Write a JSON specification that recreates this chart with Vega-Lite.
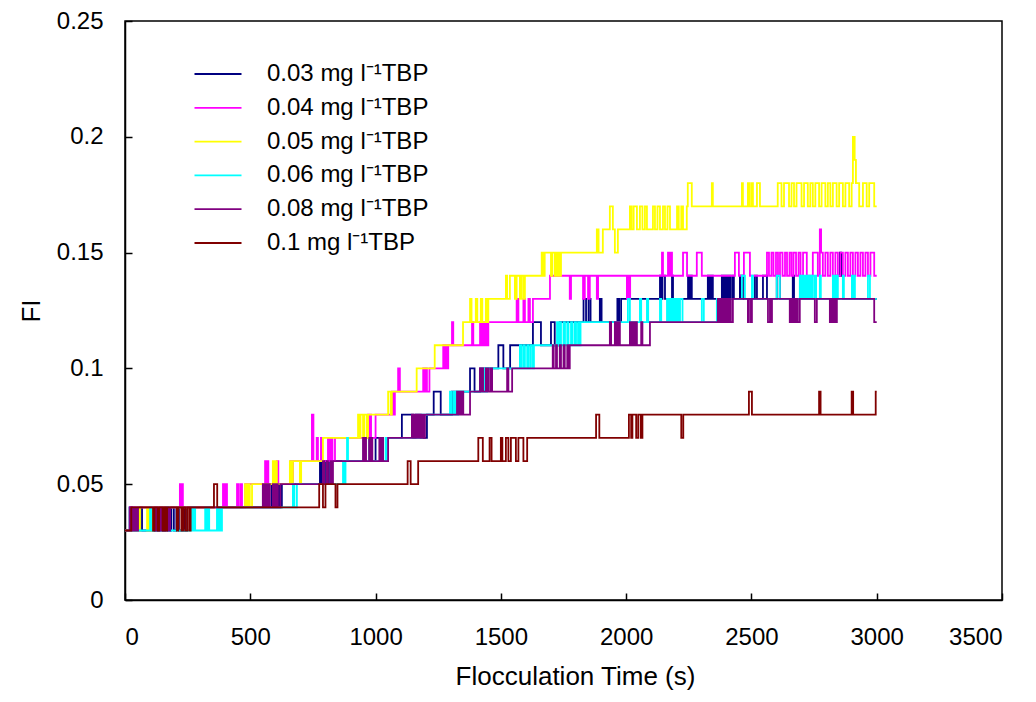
{
"$schema":"https://vega.github.io/schema/vega-lite/v6.json",
"width":877,"height":579,
"autosize":"none",
"padding":{"left":125,"top":21,"right":34,"bottom":102},
"background":"white",
"config":{
 "view":{"stroke":"black","strokeWidth":1.5},
 "axis":{"grid":false,"labelFont":"Liberation Sans","titleFont":"Liberation Sans","labelFontSize":24,"titleFontSize":26,"titleFontWeight":"normal","labelColor":"black","titleColor":"black","domainColor":"black","tickColor":"black","domainWidth":1.5,"tickWidth":1.5,"tickSize":-7}
},
"data":{"values":[
{"s":"0.03","t":0,"v":0.03},{"s":"0.03","t":18,"v":0.04},{"s":"0.03","t":28,"v":0.03},{"s":"0.03","t":60,"v":0.04},{"s":"0.03","t":68,"v":0.03},{"s":"0.03","t":120,"v":0.04},{"s":"0.03","t":128,"v":0.03},{"s":"0.03","t":140,"v":0.04},{"s":"0.03","t":150,"v":0.03},{"s":"0.03","t":160,"v":0.04},{"s":"0.03","t":172,"v":0.03},{"s":"0.03","t":185,"v":0.04},{"s":"0.03","t":195,"v":0.03},{"s":"0.03","t":205,"v":0.04},{"s":"0.03","t":215,"v":0.03},{"s":"0.03","t":228,"v":0.04},{"s":"0.03","t":236,"v":0.03},{"s":"0.03","t":248,"v":0.04},
{"s":"0.03","t":566,"v":0.05},{"s":"0.03","t":572,"v":0.04},{"s":"0.03","t":585,"v":0.05},{"s":"0.03","t":592,"v":0.04},{"s":"0.03","t":600,"v":0.05},{"s":"0.03","t":606,"v":0.04},{"s":"0.03","t":614,"v":0.05},{"s":"0.03","t":620,"v":0.04},{"s":"0.03","t":626,"v":0.05},
{"s":"0.03","t":778,"v":0.06},{"s":"0.03","t":784,"v":0.05},{"s":"0.03","t":792,"v":0.06},{"s":"0.03","t":798,"v":0.05},{"s":"0.03","t":806,"v":0.06},{"s":"0.03","t":812,"v":0.05},{"s":"0.03","t":820,"v":0.06},
{"s":"0.03","t":952,"v":0.07},{"s":"0.03","t":975,"v":0.06},{"s":"0.03","t":1000,"v":0.07},{"s":"0.03","t":1030,"v":0.06},{"s":"0.03","t":1045,"v":0.07},
{"s":"0.03","t":1105,"v":0.08},{"s":"0.03","t":1150,"v":0.07},{"s":"0.03","t":1160,"v":0.08},{"s":"0.03","t":1180,"v":0.07},{"s":"0.03","t":1205,"v":0.08},
{"s":"0.03","t":1232,"v":0.09},{"s":"0.03","t":1260,"v":0.08},{"s":"0.03","t":1305,"v":0.09},
{"s":"0.03","t":1377,"v":0.10},{"s":"0.03","t":1395,"v":0.09},{"s":"0.03","t":1417,"v":0.10},
{"s":"0.03","t":1490,"v":0.11},{"s":"0.03","t":1510,"v":0.10},{"s":"0.03","t":1537,"v":0.11},
{"s":"0.03","t":1628,"v":0.12},{"s":"0.03","t":1660,"v":0.11},{"s":"0.03","t":1700,"v":0.12},{"s":"0.03","t":1715,"v":0.11},{"s":"0.03","t":1735,"v":0.12},
{"s":"0.03","t":1830,"v":0.13},{"s":"0.03","t":1840,"v":0.12},{"s":"0.03","t":1850,"v":0.13},{"s":"0.03","t":1858,"v":0.12},{"s":"0.03","t":1895,"v":0.13},{"s":"0.03","t":1902,"v":0.12},{"s":"0.03","t":1965,"v":0.13},{"s":"0.03","t":1972,"v":0.12},{"s":"0.03","t":1980,"v":0.13},
{"s":"0.03","t":2135,"v":0.14},{"s":"0.03","t":2140,"v":0.13},{"s":"0.03","t":2145,"v":0.14},{"s":"0.03","t":2155,"v":0.13},{"s":"0.03","t":2183,"v":0.14},{"s":"0.03","t":2187,"v":0.13},{"s":"0.03","t":2247,"v":0.14},{"s":"0.03","t":2252,"v":0.13},{"s":"0.03","t":2256,"v":0.14},{"s":"0.03","t":2262,"v":0.13},{"s":"0.03","t":2326,"v":0.14},{"s":"0.03","t":2330,"v":0.13},{"s":"0.03","t":2334,"v":0.14},{"s":"0.03","t":2338,"v":0.13},{"s":"0.03","t":2342,"v":0.14},{"s":"0.03","t":2346,"v":0.13},{"s":"0.03","t":2382,"v":0.14},{"s":"0.03","t":2386,"v":0.13},{"s":"0.03","t":2390,"v":0.14},{"s":"0.03","t":2394,"v":0.13},{"s":"0.03","t":2398,"v":0.14},{"s":"0.03","t":2402,"v":0.13},{"s":"0.03","t":2406,"v":0.14},{"s":"0.03","t":2410,"v":0.13},{"s":"0.03","t":2414,"v":0.14},{"s":"0.03","t":2418,"v":0.13},{"s":"0.03","t":2426,"v":0.14},{"s":"0.03","t":2430,"v":0.13},{"s":"0.03","t":2454,"v":0.14},{"s":"0.03","t":2458,"v":0.13},{"s":"0.03","t":2462,"v":0.14},{"s":"0.03","t":2466,"v":0.13},{"s":"0.03","t":2514,"v":0.14},{"s":"0.03","t":2522,"v":0.13},{"s":"0.03","t":2546,"v":0.14},{"s":"0.03","t":2562,"v":0.13},{"s":"0.03","t":2601,"v":0.14},{"s":"0.03","t":2613,"v":0.13},{"s":"0.03","t":2665,"v":0.14},{"s":"0.03","t":2670,"v":0.13},{"s":"0.03","t":2841,"v":0.14},{"s":"0.03","t":2853,"v":0.15},{"s":"0.03","t":2858,"v":0.14},{"s":"0.03","t":2865,"v":0.13},{"s":"0.03","t":3000,"v":0.13},

{"s":"0.04","t":0,"v":0.03},{"s":"0.04","t":20,"v":0.04},{"s":"0.04","t":25,"v":0.03},{"s":"0.04","t":32,"v":0.04},{"s":"0.04","t":40,"v":0.03},{"s":"0.04","t":48,"v":0.04},{"s":"0.04","t":219,"v":0.05},{"s":"0.04","t":223,"v":0.04},{"s":"0.04","t":228,"v":0.05},{"s":"0.04","t":231,"v":0.04},{"s":"0.04","t":391,"v":0.05},{"s":"0.04","t":397,"v":0.04},{"s":"0.04","t":403,"v":0.05},{"s":"0.04","t":407,"v":0.04},{"s":"0.04","t":447,"v":0.05},{"s":"0.04","t":452,"v":0.04},{"s":"0.04","t":460,"v":0.05},{"s":"0.04","t":467,"v":0.04},{"s":"0.04","t":480,"v":0.05},
{"s":"0.04","t":559,"v":0.06},{"s":"0.04","t":563,"v":0.05},{"s":"0.04","t":567,"v":0.06},{"s":"0.04","t":572,"v":0.05},{"s":"0.04","t":606,"v":0.06},{"s":"0.04","t":612,"v":0.05},{"s":"0.04","t":660,"v":0.06},{"s":"0.04","t":665,"v":0.05},{"s":"0.04","t":670,"v":0.06},
{"s":"0.04","t":746,"v":0.08},{"s":"0.04","t":752,"v":0.06},{"s":"0.04","t":765,"v":0.07},{"s":"0.04","t":770,"v":0.06},{"s":"0.04","t":782,"v":0.07},{"s":"0.04","t":786,"v":0.06},{"s":"0.04","t":810,"v":0.07},{"s":"0.04","t":816,"v":0.06},{"s":"0.04","t":822,"v":0.07},{"s":"0.04","t":828,"v":0.06},{"s":"0.04","t":838,"v":0.07},
{"s":"0.04","t":970,"v":0.08},{"s":"0.04","t":974,"v":0.07},{"s":"0.04","t":978,"v":0.08},{"s":"0.04","t":982,"v":0.07},{"s":"0.04","t":1000,"v":0.08},
{"s":"0.04","t":1065,"v":0.09},{"s":"0.04","t":1070,"v":0.08},{"s":"0.04","t":1077,"v":0.09},{"s":"0.04","t":1090,"v":0.10},{"s":"0.04","t":1097,"v":0.09},
{"s":"0.04","t":1190,"v":0.10},{"s":"0.04","t":1195,"v":0.09},{"s":"0.04","t":1200,"v":0.10},{"s":"0.04","t":1205,"v":0.09},{"s":"0.04","t":1215,"v":0.10},
{"s":"0.04","t":1270,"v":0.11},{"s":"0.04","t":1275,"v":0.10},{"s":"0.04","t":1280,"v":0.11},{"s":"0.04","t":1285,"v":0.10},{"s":"0.04","t":1290,"v":0.11},{"s":"0.04","t":1305,"v":0.12},{"s":"0.04","t":1310,"v":0.11},{"s":"0.04","t":1385,"v":0.12},{"s":"0.04","t":1390,"v":0.11},{"s":"0.04","t":1417,"v":0.12},{"s":"0.04","t":1422,"v":0.11},{"s":"0.04","t":1428,"v":0.12},{"s":"0.04","t":1433,"v":0.11},{"s":"0.04","t":1440,"v":0.12},{"s":"0.04","t":1445,"v":0.11},{"s":"0.04","t":1450,"v":0.12},
{"s":"0.04","t":1563,"v":0.13},{"s":"0.04","t":1570,"v":0.12},{"s":"0.04","t":1590,"v":0.13},{"s":"0.04","t":1596,"v":0.12},{"s":"0.04","t":1610,"v":0.13},{"s":"0.04","t":1616,"v":0.12},{"s":"0.04","t":1628,"v":0.13},
{"s":"0.04","t":1696,"v":0.14},{"s":"0.04","t":1775,"v":0.13},{"s":"0.04","t":1780,"v":0.14},{"s":"0.04","t":1828,"v":0.13},{"s":"0.04","t":1835,"v":0.14},{"s":"0.04","t":1848,"v":0.13},{"s":"0.04","t":1855,"v":0.14},{"s":"0.04","t":1883,"v":0.13},{"s":"0.04","t":1888,"v":0.14},{"s":"0.04","t":2003,"v":0.13},{"s":"0.04","t":2008,"v":0.14},{"s":"0.04","t":2012,"v":0.13},{"s":"0.04","t":2016,"v":0.14},
{"s":"0.04","t":2143,"v":0.15},{"s":"0.04","t":2147,"v":0.14},{"s":"0.04","t":2167,"v":0.15},{"s":"0.04","t":2171,"v":0.14},{"s":"0.04","t":2177,"v":0.15},{"s":"0.04","t":2183,"v":0.14},{"s":"0.04","t":2227,"v":0.15},{"s":"0.04","t":2243,"v":0.14},{"s":"0.04","t":2282,"v":0.15},{"s":"0.04","t":2302,"v":0.14},{"s":"0.04","t":2434,"v":0.15},{"s":"0.04","t":2450,"v":0.14},{"s":"0.04","t":2470,"v":0.15},{"s":"0.04","t":2494,"v":0.14},{"s":"0.04","t":2562,"v":0.15},{"s":"0.04","t":2570,"v":0.14},{"s":"0.04","t":2580,"v":0.15},{"s":"0.04","t":2588,"v":0.14},{"s":"0.04","t":2598,"v":0.15},{"s":"0.04","t":2606,"v":0.14},{"s":"0.04","t":2614,"v":0.15},{"s":"0.04","t":2624,"v":0.14},{"s":"0.04","t":2634,"v":0.15},{"s":"0.04","t":2642,"v":0.14},{"s":"0.04","t":2652,"v":0.15},{"s":"0.04","t":2660,"v":0.14},{"s":"0.04","t":2668,"v":0.15},{"s":"0.04","t":2678,"v":0.14},{"s":"0.04","t":2688,"v":0.15},{"s":"0.04","t":2696,"v":0.14},{"s":"0.04","t":2706,"v":0.15},{"s":"0.04","t":2721,"v":0.14},{"s":"0.04","t":2745,"v":0.15},{"s":"0.04","t":2765,"v":0.14},{"s":"0.04","t":2773,"v":0.16},{"s":"0.04","t":2778,"v":0.15},{"s":"0.04","t":2785,"v":0.14},{"s":"0.04","t":2795,"v":0.15},{"s":"0.04","t":2805,"v":0.14},{"s":"0.04","t":2815,"v":0.15},{"s":"0.04","t":2825,"v":0.14},{"s":"0.04","t":2835,"v":0.15},{"s":"0.04","t":2845,"v":0.14},{"s":"0.04","t":2855,"v":0.15},{"s":"0.04","t":2865,"v":0.14},{"s":"0.04","t":2875,"v":0.15},{"s":"0.04","t":2885,"v":0.14},{"s":"0.04","t":2895,"v":0.15},{"s":"0.04","t":2905,"v":0.14},{"s":"0.04","t":2915,"v":0.15},{"s":"0.04","t":2925,"v":0.14},{"s":"0.04","t":2935,"v":0.15},{"s":"0.04","t":2945,"v":0.14},{"s":"0.04","t":2955,"v":0.15},{"s":"0.04","t":2965,"v":0.14},{"s":"0.04","t":2975,"v":0.15},{"s":"0.04","t":2990,"v":0.14},{"s":"0.04","t":3000,"v":0.14},

{"s":"0.05","t":0,"v":0.03},{"s":"0.05","t":52,"v":0.04},{"s":"0.05","t":56,"v":0.03},{"s":"0.05","t":60,"v":0.04},{"s":"0.05","t":88,"v":0.03},{"s":"0.05","t":95,"v":0.04},{"s":"0.05","t":100,"v":0.03},{"s":"0.05","t":108,"v":0.04},
{"s":"0.05","t":479,"v":0.05},{"s":"0.05","t":485,"v":0.04},{"s":"0.05","t":492,"v":0.05},{"s":"0.05","t":498,"v":0.04},{"s":"0.05","t":507,"v":0.05},
{"s":"0.05","t":590,"v":0.06},{"s":"0.05","t":596,"v":0.05},{"s":"0.05","t":602,"v":0.06},{"s":"0.05","t":606,"v":0.05},{"s":"0.05","t":658,"v":0.06},{"s":"0.05","t":664,"v":0.05},{"s":"0.05","t":670,"v":0.06},{"s":"0.05","t":698,"v":0.05},{"s":"0.05","t":703,"v":0.06},
{"s":"0.05","t":790,"v":0.07},{"s":"0.05","t":930,"v":0.08},{"s":"0.05","t":935,"v":0.07},{"s":"0.05","t":940,"v":0.08},{"s":"0.05","t":950,"v":0.07},{"s":"0.05","t":955,"v":0.08},{"s":"0.05","t":965,"v":0.07},{"s":"0.05","t":970,"v":0.08},
{"s":"0.05","t":1050,"v":0.09},{"s":"0.05","t":1060,"v":0.08},{"s":"0.05","t":1065,"v":0.09},{"s":"0.05","t":1164,"v":0.10},{"s":"0.05","t":1236,"v":0.11},{"s":"0.05","t":1349,"v":0.12},
{"s":"0.05","t":1377,"v":0.13},{"s":"0.05","t":1383,"v":0.12},{"s":"0.05","t":1400,"v":0.13},{"s":"0.05","t":1406,"v":0.12},{"s":"0.05","t":1420,"v":0.13},{"s":"0.05","t":1426,"v":0.12},{"s":"0.05","t":1440,"v":0.13},{"s":"0.05","t":1445,"v":0.12},{"s":"0.05","t":1450,"v":0.13},
{"s":"0.05","t":1520,"v":0.14},{"s":"0.05","t":1525,"v":0.13},{"s":"0.05","t":1536,"v":0.14},{"s":"0.05","t":1556,"v":0.13},{"s":"0.05","t":1563,"v":0.14},{"s":"0.05","t":1576,"v":0.13},{"s":"0.05","t":1582,"v":0.14},{"s":"0.05","t":1590,"v":0.13},{"s":"0.05","t":1596,"v":0.14},
{"s":"0.05","t":1663,"v":0.15},{"s":"0.05","t":1668,"v":0.14},{"s":"0.05","t":1675,"v":0.15},{"s":"0.05","t":1700,"v":0.14},{"s":"0.05","t":1705,"v":0.15},{"s":"0.05","t":1715,"v":0.14},{"s":"0.05","t":1720,"v":0.15},{"s":"0.05","t":1725,"v":0.14},{"s":"0.05","t":1730,"v":0.15},{"s":"0.05","t":1735,"v":0.14},{"s":"0.05","t":1740,"v":0.15},
{"s":"0.05","t":1883,"v":0.16},{"s":"0.05","t":1890,"v":0.15},{"s":"0.05","t":1907,"v":0.16},{"s":"0.05","t":1935,"v":0.17},{"s":"0.05","t":1947,"v":0.16},{"s":"0.05","t":1955,"v":0.15},{"s":"0.05","t":1967,"v":0.16},{"s":"0.05","t":2015,"v":0.17},{"s":"0.05","t":2022,"v":0.16},{"s":"0.05","t":2030,"v":0.17},{"s":"0.05","t":2043,"v":0.16},{"s":"0.05","t":2055,"v":0.17},{"s":"0.05","t":2065,"v":0.16},{"s":"0.05","t":2075,"v":0.17},{"s":"0.05","t":2083,"v":0.16},{"s":"0.05","t":2107,"v":0.17},{"s":"0.05","t":2115,"v":0.16},{"s":"0.05","t":2125,"v":0.17},{"s":"0.05","t":2135,"v":0.16},{"s":"0.05","t":2147,"v":0.17},{"s":"0.05","t":2155,"v":0.16},{"s":"0.05","t":2165,"v":0.17},{"s":"0.05","t":2175,"v":0.16},{"s":"0.05","t":2203,"v":0.17},{"s":"0.05","t":2210,"v":0.16},{"s":"0.05","t":2220,"v":0.17},{"s":"0.05","t":2227,"v":0.16},{"s":"0.05","t":2242,"v":0.17},
{"s":"0.05","t":2246,"v":0.18},{"s":"0.05","t":2262,"v":0.17},{"s":"0.05","t":2342,"v":0.18},{"s":"0.05","t":2346,"v":0.17},{"s":"0.05","t":2462,"v":0.18},{"s":"0.05","t":2466,"v":0.17},{"s":"0.05","t":2486,"v":0.18},{"s":"0.05","t":2492,"v":0.17},{"s":"0.05","t":2500,"v":0.18},{"s":"0.05","t":2506,"v":0.17},{"s":"0.05","t":2522,"v":0.18},{"s":"0.05","t":2534,"v":0.17},
{"s":"0.05","t":2605,"v":0.18},{"s":"0.05","t":2620,"v":0.17},{"s":"0.05","t":2630,"v":0.18},{"s":"0.05","t":2650,"v":0.17},{"s":"0.05","t":2660,"v":0.18},{"s":"0.05","t":2670,"v":0.17},{"s":"0.05","t":2680,"v":0.18},{"s":"0.05","t":2700,"v":0.17},{"s":"0.05","t":2710,"v":0.18},{"s":"0.05","t":2725,"v":0.17},{"s":"0.05","t":2735,"v":0.18},{"s":"0.05","t":2745,"v":0.17},{"s":"0.05","t":2755,"v":0.18},{"s":"0.05","t":2770,"v":0.17},{"s":"0.05","t":2780,"v":0.18},{"s":"0.05","t":2795,"v":0.17},{"s":"0.05","t":2805,"v":0.18},{"s":"0.05","t":2815,"v":0.17},{"s":"0.05","t":2825,"v":0.18},{"s":"0.05","t":2840,"v":0.17},{"s":"0.05","t":2850,"v":0.18},{"s":"0.05","t":2865,"v":0.17},{"s":"0.05","t":2875,"v":0.18},{"s":"0.05","t":2890,"v":0.17},{"s":"0.05","t":2900,"v":0.18},{"s":"0.05","t":2905,"v":0.20},{"s":"0.05","t":2912,"v":0.19},{"s":"0.05","t":2917,"v":0.18},{"s":"0.05","t":2930,"v":0.17},{"s":"0.05","t":2945,"v":0.18},{"s":"0.05","t":2960,"v":0.17},{"s":"0.05","t":2970,"v":0.18},{"s":"0.05","t":2990,"v":0.17},{"s":"0.05","t":3000,"v":0.17},

{"s":"0.06","t":0,"v":0.03},{"s":"0.06","t":100,"v":0.04},{"s":"0.06","t":104,"v":0.03},{"s":"0.06","t":168,"v":0.04},{"s":"0.06","t":172,"v":0.03},{"s":"0.06","t":267,"v":0.04},{"s":"0.06","t":272,"v":0.03},{"s":"0.06","t":276,"v":0.04},{"s":"0.06","t":280,"v":0.03},{"s":"0.06","t":320,"v":0.04},{"s":"0.06","t":326,"v":0.03},{"s":"0.06","t":332,"v":0.04},{"s":"0.06","t":336,"v":0.03},{"s":"0.06","t":367,"v":0.04},{"s":"0.06","t":373,"v":0.03},{"s":"0.06","t":379,"v":0.04},{"s":"0.06","t":383,"v":0.03},{"s":"0.06","t":387,"v":0.04},
{"s":"0.06","t":670,"v":0.05},{"s":"0.06","t":676,"v":0.04},{"s":"0.06","t":686,"v":0.05},{"s":"0.06","t":870,"v":0.06},{"s":"0.06","t":875,"v":0.05},{"s":"0.06","t":880,"v":0.06},{"s":"0.06","t":886,"v":0.07},{"s":"0.06","t":890,"v":0.06},{"s":"0.06","t":1040,"v":0.07},{"s":"0.06","t":1044,"v":0.06},{"s":"0.06","t":1048,"v":0.07},{"s":"0.06","t":1185,"v":0.08},
{"s":"0.06","t":1297,"v":0.09},{"s":"0.06","t":1302,"v":0.08},{"s":"0.06","t":1310,"v":0.09},{"s":"0.06","t":1315,"v":0.08},{"s":"0.06","t":1320,"v":0.09},{"s":"0.06","t":1325,"v":0.08},{"s":"0.06","t":1330,"v":0.09},{"s":"0.06","t":1435,"v":0.10},{"s":"0.06","t":1440,"v":0.09},{"s":"0.06","t":1445,"v":0.10},
{"s":"0.06","t":1576,"v":0.11},{"s":"0.06","t":1582,"v":0.10},{"s":"0.06","t":1590,"v":0.11},{"s":"0.06","t":1596,"v":0.10},{"s":"0.06","t":1605,"v":0.11},{"s":"0.06","t":1612,"v":0.10},{"s":"0.06","t":1620,"v":0.11},{"s":"0.06","t":1628,"v":0.10},{"s":"0.06","t":1632,"v":0.11},
{"s":"0.06","t":1724,"v":0.12},{"s":"0.06","t":1728,"v":0.11},{"s":"0.06","t":1735,"v":0.12},{"s":"0.06","t":1740,"v":0.11},{"s":"0.06","t":1750,"v":0.12},{"s":"0.06","t":1756,"v":0.11},{"s":"0.06","t":1765,"v":0.12},{"s":"0.06","t":1770,"v":0.11},{"s":"0.06","t":1780,"v":0.12},{"s":"0.06","t":1786,"v":0.11},{"s":"0.06","t":1795,"v":0.12},{"s":"0.06","t":1800,"v":0.11},{"s":"0.06","t":1808,"v":0.12},{"s":"0.06","t":1815,"v":0.11},{"s":"0.06","t":1818,"v":0.12},
{"s":"0.06","t":2007,"v":0.13},{"s":"0.06","t":2015,"v":0.12},{"s":"0.06","t":2055,"v":0.13},{"s":"0.06","t":2060,"v":0.12},{"s":"0.06","t":2083,"v":0.13},{"s":"0.06","t":2088,"v":0.12},{"s":"0.06","t":2135,"v":0.13},{"s":"0.06","t":2140,"v":0.12},{"s":"0.06","t":2163,"v":0.13},{"s":"0.06","t":2168,"v":0.12},{"s":"0.06","t":2172,"v":0.13},{"s":"0.06","t":2176,"v":0.12},{"s":"0.06","t":2180,"v":0.13},{"s":"0.06","t":2184,"v":0.12},{"s":"0.06","t":2188,"v":0.13},{"s":"0.06","t":2192,"v":0.12},{"s":"0.06","t":2196,"v":0.13},{"s":"0.06","t":2200,"v":0.12},{"s":"0.06","t":2204,"v":0.13},{"s":"0.06","t":2208,"v":0.12},{"s":"0.06","t":2215,"v":0.13},{"s":"0.06","t":2225,"v":0.12},{"s":"0.06","t":2302,"v":0.13},{"s":"0.06","t":2310,"v":0.12},{"s":"0.06","t":2362,"v":0.13},
{"s":"0.06","t":2462,"v":0.14},{"s":"0.06","t":2474,"v":0.13},{"s":"0.06","t":2502,"v":0.14},{"s":"0.06","t":2506,"v":0.13},{"s":"0.06","t":2601,"v":0.14},{"s":"0.06","t":2613,"v":0.13},{"s":"0.06","t":2693,"v":0.14},{"s":"0.06","t":2697,"v":0.13},{"s":"0.06","t":2701,"v":0.14},{"s":"0.06","t":2705,"v":0.13},{"s":"0.06","t":2709,"v":0.14},{"s":"0.06","t":2713,"v":0.13},{"s":"0.06","t":2717,"v":0.14},{"s":"0.06","t":2721,"v":0.13},{"s":"0.06","t":2725,"v":0.14},{"s":"0.06","t":2729,"v":0.13},{"s":"0.06","t":2733,"v":0.14},{"s":"0.06","t":2737,"v":0.13},{"s":"0.06","t":2741,"v":0.14},{"s":"0.06","t":2745,"v":0.13},{"s":"0.06","t":2753,"v":0.14},{"s":"0.06","t":2758,"v":0.13},{"s":"0.06","t":2773,"v":0.14},{"s":"0.06","t":2777,"v":0.13},{"s":"0.06","t":2825,"v":0.14},{"s":"0.06","t":2832,"v":0.13},{"s":"0.06","t":2838,"v":0.14},{"s":"0.06","t":2845,"v":0.13},{"s":"0.06","t":2865,"v":0.14},{"s":"0.06","t":2869,"v":0.13},{"s":"0.06","t":2901,"v":0.14},{"s":"0.06","t":2905,"v":0.13},{"s":"0.06","t":2909,"v":0.14},{"s":"0.06","t":2913,"v":0.13},{"s":"0.06","t":2965,"v":0.14},{"s":"0.06","t":2973,"v":0.13},{"s":"0.06","t":3000,"v":0.13},

{"s":"0.08","t":0,"v":0.03},{"s":"0.08","t":20,"v":0.04},{"s":"0.08","t":24,"v":0.03},{"s":"0.08","t":28,"v":0.04},{"s":"0.08","t":32,"v":0.03},{"s":"0.08","t":36,"v":0.04},{"s":"0.08","t":40,"v":0.03},{"s":"0.08","t":44,"v":0.04},{"s":"0.08","t":48,"v":0.03},{"s":"0.08","t":52,"v":0.04},{"s":"0.08","t":120,"v":0.03},{"s":"0.08","t":124,"v":0.04},{"s":"0.08","t":128,"v":0.03},{"s":"0.08","t":132,"v":0.04},{"s":"0.08","t":136,"v":0.03},{"s":"0.08","t":140,"v":0.04},{"s":"0.08","t":144,"v":0.03},{"s":"0.08","t":148,"v":0.04},{"s":"0.08","t":152,"v":0.03},{"s":"0.08","t":156,"v":0.04},{"s":"0.08","t":160,"v":0.03},{"s":"0.08","t":164,"v":0.04},{"s":"0.08","t":168,"v":0.03},{"s":"0.08","t":172,"v":0.04},{"s":"0.08","t":176,"v":0.03},{"s":"0.08","t":180,"v":0.04},
{"s":"0.08","t":550,"v":0.05},{"s":"0.08","t":554,"v":0.04},{"s":"0.08","t":558,"v":0.05},{"s":"0.08","t":562,"v":0.04},{"s":"0.08","t":566,"v":0.05},{"s":"0.08","t":570,"v":0.04},{"s":"0.08","t":574,"v":0.05},{"s":"0.08","t":578,"v":0.04},{"s":"0.08","t":590,"v":0.05},{"s":"0.08","t":594,"v":0.04},{"s":"0.08","t":598,"v":0.05},{"s":"0.08","t":602,"v":0.04},{"s":"0.08","t":606,"v":0.05},{"s":"0.08","t":610,"v":0.04},{"s":"0.08","t":620,"v":0.05},
{"s":"0.08","t":790,"v":0.06},{"s":"0.08","t":795,"v":0.05},{"s":"0.08","t":805,"v":0.06},{"s":"0.08","t":810,"v":0.05},{"s":"0.08","t":820,"v":0.06},{"s":"0.08","t":825,"v":0.05},{"s":"0.08","t":830,"v":0.06},
{"s":"0.08","t":950,"v":0.07},{"s":"0.08","t":954,"v":0.06},{"s":"0.08","t":958,"v":0.07},{"s":"0.08","t":962,"v":0.06},{"s":"0.08","t":975,"v":0.07},{"s":"0.08","t":979,"v":0.06},{"s":"0.08","t":983,"v":0.07},{"s":"0.08","t":987,"v":0.06},{"s":"0.08","t":1015,"v":0.07},{"s":"0.08","t":1020,"v":0.06},{"s":"0.08","t":1025,"v":0.07},{"s":"0.08","t":1030,"v":0.06},{"s":"0.08","t":1050,"v":0.07},
{"s":"0.08","t":1145,"v":0.08},{"s":"0.08","t":1150,"v":0.07},{"s":"0.08","t":1155,"v":0.08},{"s":"0.08","t":1160,"v":0.07},{"s":"0.08","t":1165,"v":0.08},{"s":"0.08","t":1170,"v":0.07},{"s":"0.08","t":1175,"v":0.08},{"s":"0.08","t":1180,"v":0.07},{"s":"0.08","t":1185,"v":0.08},{"s":"0.08","t":1190,"v":0.07},{"s":"0.08","t":1197,"v":0.08},
{"s":"0.08","t":1325,"v":0.09},{"s":"0.08","t":1330,"v":0.08},{"s":"0.08","t":1335,"v":0.09},{"s":"0.08","t":1340,"v":0.08},{"s":"0.08","t":1345,"v":0.09},{"s":"0.08","t":1350,"v":0.08},{"s":"0.08","t":1377,"v":0.09},
{"s":"0.08","t":1417,"v":0.10},{"s":"0.08","t":1421,"v":0.09},{"s":"0.08","t":1425,"v":0.10},{"s":"0.08","t":1429,"v":0.09},{"s":"0.08","t":1440,"v":0.10},{"s":"0.08","t":1444,"v":0.09},{"s":"0.08","t":1448,"v":0.10},{"s":"0.08","t":1452,"v":0.09},{"s":"0.08","t":1460,"v":0.10},{"s":"0.08","t":1465,"v":0.09},{"s":"0.08","t":1525,"v":0.10},{"s":"0.08","t":1530,"v":0.09},{"s":"0.08","t":1545,"v":0.10},
{"s":"0.08","t":1707,"v":0.11},{"s":"0.08","t":1711,"v":0.10},{"s":"0.08","t":1720,"v":0.11},{"s":"0.08","t":1724,"v":0.10},{"s":"0.08","t":1735,"v":0.11},{"s":"0.08","t":1740,"v":0.10},{"s":"0.08","t":1750,"v":0.11},{"s":"0.08","t":1755,"v":0.10},{"s":"0.08","t":1765,"v":0.11},{"s":"0.08","t":1770,"v":0.10},{"s":"0.08","t":1775,"v":0.11},
{"s":"0.08","t":1935,"v":0.12},{"s":"0.08","t":1940,"v":0.11},{"s":"0.08","t":1955,"v":0.12},{"s":"0.08","t":1959,"v":0.11},{"s":"0.08","t":1963,"v":0.12},{"s":"0.08","t":1967,"v":0.11},{"s":"0.08","t":1971,"v":0.12},{"s":"0.08","t":1975,"v":0.11},{"s":"0.08","t":2015,"v":0.12},{"s":"0.08","t":2019,"v":0.11},{"s":"0.08","t":2023,"v":0.12},{"s":"0.08","t":2027,"v":0.11},{"s":"0.08","t":2031,"v":0.12},{"s":"0.08","t":2035,"v":0.11},{"s":"0.08","t":2039,"v":0.12},{"s":"0.08","t":2043,"v":0.11},{"s":"0.08","t":2060,"v":0.12},{"s":"0.08","t":2065,"v":0.11},{"s":"0.08","t":2095,"v":0.12},
{"s":"0.08","t":2366,"v":0.13},{"s":"0.08","t":2370,"v":0.12},{"s":"0.08","t":2374,"v":0.13},{"s":"0.08","t":2378,"v":0.12},{"s":"0.08","t":2382,"v":0.13},{"s":"0.08","t":2386,"v":0.12},{"s":"0.08","t":2390,"v":0.13},{"s":"0.08","t":2394,"v":0.12},{"s":"0.08","t":2398,"v":0.13},{"s":"0.08","t":2402,"v":0.12},{"s":"0.08","t":2406,"v":0.13},{"s":"0.08","t":2410,"v":0.12},{"s":"0.08","t":2414,"v":0.13},{"s":"0.08","t":2418,"v":0.12},{"s":"0.08","t":2426,"v":0.13},
{"s":"0.08","t":2486,"v":0.12},{"s":"0.08","t":2490,"v":0.13},{"s":"0.08","t":2498,"v":0.12},{"s":"0.08","t":2502,"v":0.13},{"s":"0.08","t":2566,"v":0.12},{"s":"0.08","t":2574,"v":0.13},{"s":"0.08","t":2578,"v":0.12},{"s":"0.08","t":2582,"v":0.13},{"s":"0.08","t":2653,"v":0.12},{"s":"0.08","t":2657,"v":0.13},{"s":"0.08","t":2661,"v":0.12},{"s":"0.08","t":2665,"v":0.13},{"s":"0.08","t":2669,"v":0.12},{"s":"0.08","t":2673,"v":0.13},{"s":"0.08","t":2677,"v":0.12},{"s":"0.08","t":2681,"v":0.13},{"s":"0.08","t":2685,"v":0.12},{"s":"0.08","t":2693,"v":0.13},{"s":"0.08","t":2753,"v":0.12},{"s":"0.08","t":2761,"v":0.13},{"s":"0.08","t":2813,"v":0.12},{"s":"0.08","t":2817,"v":0.13},{"s":"0.08","t":2821,"v":0.12},{"s":"0.08","t":2825,"v":0.13},{"s":"0.08","t":2829,"v":0.12},{"s":"0.08","t":2833,"v":0.13},{"s":"0.08","t":2837,"v":0.12},{"s":"0.08","t":2841,"v":0.13},{"s":"0.08","t":2990,"v":0.12},{"s":"0.08","t":3000,"v":0.12},

{"s":"0.1","t":0,"v":0.03},{"s":"0.1","t":25,"v":0.04},{"s":"0.1","t":112,"v":0.03},{"s":"0.1","t":118,"v":0.04},{"s":"0.1","t":130,"v":0.03},{"s":"0.1","t":136,"v":0.04},{"s":"0.1","t":150,"v":0.03},{"s":"0.1","t":156,"v":0.04},{"s":"0.1","t":162,"v":0.03},{"s":"0.1","t":168,"v":0.04},{"s":"0.1","t":207,"v":0.03},{"s":"0.1","t":213,"v":0.04},{"s":"0.1","t":225,"v":0.03},{"s":"0.1","t":232,"v":0.04},{"s":"0.1","t":240,"v":0.03},{"s":"0.1","t":248,"v":0.04},{"s":"0.1","t":256,"v":0.03},{"s":"0.1","t":262,"v":0.04},{"s":"0.1","t":355,"v":0.05},{"s":"0.1","t":368,"v":0.04},
{"s":"0.1","t":775,"v":0.05},{"s":"0.1","t":790,"v":0.04},{"s":"0.1","t":800,"v":0.05},{"s":"0.1","t":840,"v":0.04},{"s":"0.1","t":848,"v":0.05},{"s":"0.1","t":1128,"v":0.06},{"s":"0.1","t":1140,"v":0.05},{"s":"0.1","t":1170,"v":0.06},
{"s":"0.1","t":1410,"v":0.07},{"s":"0.1","t":1428,"v":0.06},{"s":"0.1","t":1455,"v":0.07},{"s":"0.1","t":1463,"v":0.06},{"s":"0.1","t":1500,"v":0.07},{"s":"0.1","t":1506,"v":0.06},{"s":"0.1","t":1520,"v":0.07},{"s":"0.1","t":1530,"v":0.06},{"s":"0.1","t":1540,"v":0.07},{"s":"0.1","t":1560,"v":0.06},{"s":"0.1","t":1570,"v":0.07},{"s":"0.1","t":1590,"v":0.06},{"s":"0.1","t":1605,"v":0.07},
{"s":"0.1","t":1880,"v":0.08},{"s":"0.1","t":1893,"v":0.07},{"s":"0.1","t":2011,"v":0.08},{"s":"0.1","t":2020,"v":0.07},{"s":"0.1","t":2025,"v":0.08},{"s":"0.1","t":2040,"v":0.07},{"s":"0.1","t":2048,"v":0.08},{"s":"0.1","t":2058,"v":0.07},{"s":"0.1","t":2065,"v":0.08},{"s":"0.1","t":2220,"v":0.07},{"s":"0.1","t":2228,"v":0.08},{"s":"0.1","t":2490,"v":0.09},{"s":"0.1","t":2502,"v":0.08},{"s":"0.1","t":2770,"v":0.09},{"s":"0.1","t":2776,"v":0.08},{"s":"0.1","t":2900,"v":0.09},{"s":"0.1","t":2906,"v":0.08},{"s":"0.1","t":2996,"v":0.09},{"s":"0.1","t":3000,"v":0.09}
]},
"encoding":{
 "x":{"field":"t","type":"quantitative","scale":{"domain":[0,3500],"nice":false},"axis":{"values":[0,500,1000,1500,2000,2500,3000,3500],"format":"d","title":"Flocculation Time (s)","labelPadding":32,"titlePadding":14,"titleX":450}},
 "y":{"field":"v","type":"quantitative","scale":{"domain":[0,0.25],"nice":false},"axis":{"values":[0,0.05,0.1,0.15,0.2,0.25],"format":"~g","title":"FI","labelPadding":29,"titlePadding":12}},
 "color":{"field":"s","type":"nominal","scale":{"domain":["0.03","0.04","0.05","0.06","0.08","0.1"],"range":["#000080","#FF00FF","#FFFF00","#00FFFF","#800080","#800000"]},
  "legend":{"title":null,"orient":"none","legendX":81,"legendY":41,"padding":0,"symbolType":"M-4.7,0L4.7,0","symbolSize":100,"symbolStrokeWidth":1.8,"symbolFillColor":"transparent","rowPadding":9.8,"labelOffset":37,"labelLimit":400,"labelFont":"Liberation Sans","labelFontSize":24,"labelColor":"black","labelExpr":"datum.label + ' mg l⁻¹TBP'"}}
},
"layer":[
 {"transform":[{"filter":"datum.s=='0.03'"}],"mark":{"type":"line","interpolate":"step-after","strokeWidth":1.8}},
 {"transform":[{"filter":"datum.s=='0.04'"}],"mark":{"type":"line","interpolate":"step-after","strokeWidth":1.8}},
 {"transform":[{"filter":"datum.s=='0.05'"}],"mark":{"type":"line","interpolate":"step-after","strokeWidth":1.8}},
 {"transform":[{"filter":"datum.s=='0.06'"}],"mark":{"type":"line","interpolate":"step-after","strokeWidth":1.8}},
 {"transform":[{"filter":"datum.s=='0.08'"}],"mark":{"type":"line","interpolate":"step-after","strokeWidth":1.8}},
 {"transform":[{"filter":"datum.s=='0.1'"}],"mark":{"type":"line","interpolate":"step-after","strokeWidth":1.8}}
]
}
